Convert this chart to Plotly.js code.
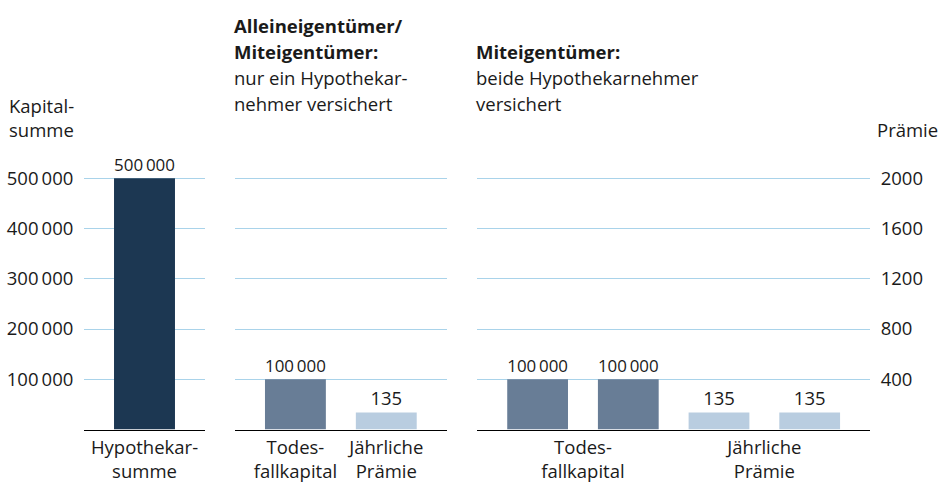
<!DOCTYPE html>
<html>
<head>
<meta charset="utf-8">
<script src="https://cdn.plot.ly/plotly-3.0.1.min.js"></script>
<style>
  html, body { margin: 0; padding: 0; background: #ffffff; }
  #chart { width: 941px; height: 482px; }
</style>
</head>
<body>
<div id="chart"></div>
<script>
// ---- data ----
const panel1Categories = ["Hypothekar-<br>summe"];
const panel1Kapital = [500000];

const panel2Categories = ["Todes-<br>fallkapital", "Jährliche<br>Prämie"];
const panel2Kapital = [100000];
const panel2Praemie = [135];

const panel3KapitalCategories = ["Todesfallkapital 1", "Todesfallkapital 2"];
const panel3PraemieCategories = ["Prämie 1", "Prämie 2"];
const panel3Kapital = [100000, 100000];
const panel3Praemie = [135, 135];
const panel3GroupLabels = ["Todes-<br>fallkapital", "Jährliche<br>Prämie"];

const kapitalTicks = [100000, 200000, 300000, 400000, 500000];
const praemieTicks = [400, 800, 1200, 1600, 2000];

const leftAxisTitle = ["Kapital-", "summe"];
const rightAxisTitle = ["Prämie"];
const panel2TitleBold = ["Alleineigentümer/", "Miteigentümer:"];
const panel2TitleText = ["nur ein Hypothekar-", "nehmer versichert"];
const panel3TitleBold = ["Miteigentümer:"];
const panel3TitleText = ["beide Hypothekarnehmer", "versichert"];

// ---- styling ----
const W = 941, H = 482;
const FONT = "Open Sans, sans-serif";
const FS = 18.5;
const TXT = "#1a1a1a";
const DARK = "#1c3752";
const MID = "#687d96";
const LIGHT = "#b9cde0";
const GRID = "#a9d3ea";

function fmt(v) {
  return String(v).replace(/\B(?=(\d{3})+(?!\d))/g, "\u2009");
}
function px(x) { return x / W; }
function py(y) { return 1 - y / H; }

const yDomain = [py(429.5), py(138.05)];

const barCommon = {
  type: "bar",
  textposition: "outside",
  cliponaxis: false,
  textfont: { family: FONT, size: FS, color: TXT },
  outsidetextfont: { family: FONT, size: FS, color: TXT },
  hoverinfo: "skip",
  showlegend: false
};

const data = [
  Object.assign({}, barCommon, {
    x: panel1Categories, y: panel1Kapital, xaxis: "x", yaxis: "y",
    text: panel1Kapital.map(fmt), marker: { color: DARK }
  }),
  Object.assign({}, barCommon, {
    x: [panel2Categories[0]], y: panel2Kapital, xaxis: "x2", yaxis: "y2",
    text: panel2Kapital.map(fmt), marker: { color: MID }
  }),
  Object.assign({}, barCommon, {
    x: [panel2Categories[1]], y: panel2Praemie, xaxis: "x2", yaxis: "y4",
    text: panel2Praemie.map(fmt), marker: { color: LIGHT }
  }),
  Object.assign({}, barCommon, {
    x: panel3KapitalCategories, y: panel3Kapital, xaxis: "x3", yaxis: "y3",
    text: panel3Kapital.map(fmt), marker: { color: MID }
  }),
  Object.assign({}, barCommon, {
    x: panel3PraemieCategories, y: panel3Praemie, xaxis: "x3", yaxis: "y5",
    text: panel3Praemie.map(fmt), marker: { color: LIGHT }
  })
];

const xCommon = {
  type: "category",
  showgrid: false,
  zeroline: false,
  showline: true,
  linecolor: "#000000",
  linewidth: 1.5,
  ticks: "outside",
  ticklen: 1,
  tickcolor: "rgba(0,0,0,0)",
  tickfont: { family: FONT, size: FS, color: TXT },
  fixedrange: true
};

const kapRange = [0, 580000];
const praRange = [0, 2320];

const yGrid = {
  showgrid: true,
  gridcolor: GRID,
  gridwidth: 1,
  zeroline: false,
  showline: false,
  domain: yDomain,
  fixedrange: true,
  tickfont: { family: FONT, size: FS, color: TXT }
};

const panel3AllCats = panel3KapitalCategories.concat(panel3PraemieCategories);

const annTargets = [];
function lines(arr, x, centers, weight) {
  return arr.map(function (t, i) {
    annTargets.push(x);
    return {
      xref: "paper", yref: "paper", x: px(x), y: py(centers[i]),
      xanchor: "left", yanchor: "middle", align: "left", showarrow: false,
      borderpad: 0,
      text: t, font: { family: FONT, size: FS, color: TXT, weight: weight || "normal" }
    };
  });
}

const annotations = []
  .concat(lines(leftAxisTitle, 9, [105.5, 129.5]))
  .concat(lines(rightAxisTitle, 877.5, [130]))
  .concat(lines(panel2TitleBold, 234.5, [25.5, 51.5], "bold"))
  .concat(lines(panel2TitleText, 234.5, [77.5, 103]))
  .concat(lines(panel3TitleBold, 476.5, [51.5], "bold"))
  .concat(lines(panel3TitleText, 476.5, [77.5, 103]));

const layout = {
  width: W, height: H,
  margin: { l: 0, r: 0, t: 0, b: 0, pad: 0 },
  paper_bgcolor: "#ffffff",
  plot_bgcolor: "rgba(0,0,0,0)",
  separators: ".\u2009",
  bargap: 0.33,
  showlegend: false,
  hovermode: false,
  font: { family: FONT, size: FS, color: TXT },
  xaxis: Object.assign({}, xCommon, {
    domain: [px(84), px(205)], anchor: "y",
    range: [-0.665, panel1Categories.length - 1 + 0.665]
  }),
  xaxis2: Object.assign({}, xCommon, {
    domain: [px(235), px(446.7)], anchor: "y2",
    categoryarray: panel2Categories, categoryorder: "array",
    range: [-0.665, panel2Categories.length - 1 + 0.665]
  }),
  xaxis3: Object.assign({}, xCommon, {
    domain: [px(477.3), px(870)], anchor: "y3",
    categoryarray: panel3AllCats, categoryorder: "array",
    range: [-0.665, panel3AllCats.length - 1 + 0.665],
    tickmode: "array",
    tickvals: [0.5, 2.5],
    ticktext: panel3GroupLabels
  }),
  yaxis: Object.assign({}, yGrid, {
    anchor: "x", range: kapRange,
    tickmode: "array", tickvals: kapitalTicks,
    ticktext: kapitalTicks.map(fmt),
    ticks: "outside", ticklen: 6, tickcolor: "rgba(0,0,0,0)"
  }),
  yaxis2: Object.assign({}, yGrid, {
    anchor: "x2", range: kapRange,
    tickmode: "array", tickvals: kapitalTicks, showticklabels: false
  }),
  yaxis3: Object.assign({}, yGrid, {
    anchor: "x3", range: kapRange, showgrid: false,
    tickmode: "array", tickvals: kapitalTicks, showticklabels: false
  }),
  yaxis4: Object.assign({}, yGrid, {
    anchor: "x2", overlaying: "y2", range: praRange, showgrid: false,
    showticklabels: false
  }),
  yaxis5: Object.assign({}, yGrid, {
    anchor: "x3", overlaying: "y3", side: "right", range: praRange,
    tickmode: "array", tickvals: praemieTicks,
    ticktext: praemieTicks.map(String),
    ticks: "outside", ticklen: 6, tickcolor: "rgba(0,0,0,0)"
  }),
  annotations: annotations
};

Plotly.newPlot("chart", data, layout, { displayModeBar: false, staticPlot: true })
  .then(function (gd) {
    // correct any measured drift so each text line starts at its target x
    const base = gd.getBoundingClientRect().left;
    const upd = {};
    gd.querySelectorAll("g.annotation").forEach(function (g) {
      const idx = +g.getAttribute("data-index");
      const t = g.querySelector("text.annotation-text");
      if (!t || isNaN(idx)) return;
      const left = t.getBoundingClientRect().left - base;
      const d = annTargets[idx] - left;
      if (Math.abs(d) > 0.5) upd["annotations[" + idx + "].xshift"] = d;
    });
    if (Object.keys(upd).length) return Plotly.relayout(gd, upd);
  })
  .catch(function () {});
</script>
</body>
</html>
